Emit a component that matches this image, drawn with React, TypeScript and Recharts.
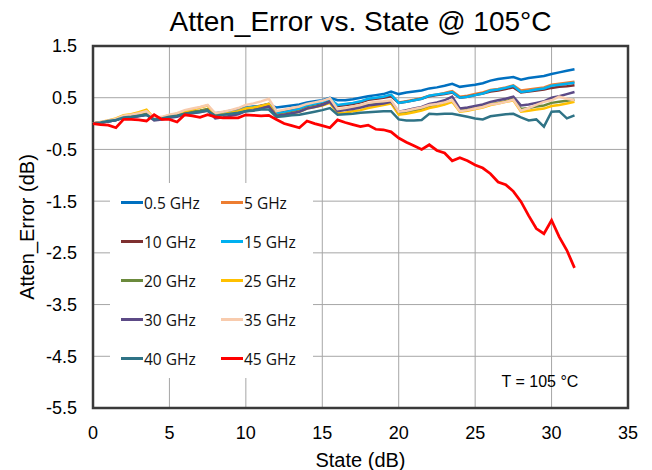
import React from "react";
import {
  LineChart,
  Line,
  XAxis,
  YAxis,
  CartesianGrid,
  Legend,
  ReferenceArea,
  Label,
} from "recharts";

// attenuation state, dB
const states = [
  0, 0.5, 1, 1.5, 2, 2.5, 3, 3.5, 4, 4.5, 5, 5.5, 6, 6.5, 7, 7.5,
  8, 8.5, 9, 9.5, 10, 10.5, 11, 11.5, 12, 12.5, 13, 13.5, 14, 14.5, 15, 15.5,
  16, 16.5, 17, 17.5, 18, 18.5, 19, 19.5, 20, 20.5, 21, 21.5, 22, 22.5, 23, 23.5,
  24, 24.5, 25, 25.5, 26, 26.5, 27, 27.5, 28, 28.5, 29, 29.5, 30, 30.5, 31, 31.5,
];

const err05 = [
  0, 0.02, 0.05, 0.07, 0.12, 0.13, 0.15, 0.17,
  0.08, 0.1, 0.13, 0.15, 0.2, 0.22, 0.24, 0.26,
  0.2, 0.22, 0.25, 0.28, 0.31, 0.33, 0.34, 0.36,
  0.31, 0.33, 0.35, 0.37, 0.41, 0.43, 0.45, 0.5,
  0.45, 0.45, 0.47, 0.5, 0.53, 0.55, 0.57, 0.62,
  0.57, 0.6, 0.62, 0.64, 0.68, 0.7, 0.73, 0.77,
  0.71, 0.73, 0.75, 0.78, 0.83, 0.86, 0.88, 0.9,
  0.85, 0.88, 0.9, 0.92, 0.96, 0.99, 1.02, 1.05,
];
const err5 = [
  0, 0.02, 0.05, 0.08, 0.13, 0.14, 0.16, 0.19,
  0.09, 0.11, 0.14, 0.16, 0.21, 0.23, 0.25, 0.28,
  0.17, 0.2, 0.22, 0.25, 0.3, 0.32, 0.35, 0.38,
  0.2, 0.23, 0.26, 0.29, 0.35, 0.38, 0.41, 0.46,
  0.35, 0.37, 0.39, 0.42, 0.47, 0.49, 0.51, 0.55,
  0.41, 0.43, 0.46, 0.49, 0.54, 0.56, 0.59, 0.63,
  0.52, 0.54, 0.57, 0.6, 0.65, 0.67, 0.7, 0.74,
  0.64, 0.66, 0.68, 0.7, 0.75, 0.77, 0.79, 0.81,
];
const err10 = [
  0, 0.02, 0.04, 0.07, 0.12, 0.13, 0.15, 0.18,
  0.08, 0.1, 0.13, 0.15, 0.2, 0.22, 0.24, 0.27,
  0.16, 0.19, 0.21, 0.24, 0.29, 0.31, 0.34, 0.37,
  0.19, 0.22, 0.25, 0.28, 0.34, 0.37, 0.4, 0.45,
  0.34, 0.36, 0.38, 0.41, 0.46, 0.48, 0.5, 0.53,
  0.4, 0.42, 0.45, 0.48, 0.53, 0.55, 0.57, 0.6,
  0.5, 0.52, 0.55, 0.58, 0.62, 0.64, 0.67, 0.7,
  0.6, 0.62, 0.64, 0.66, 0.69, 0.71, 0.72, 0.74,
];
const err15 = [
  0, 0.02, 0.04, 0.07, 0.12, 0.13, 0.15, 0.18,
  0.08, 0.1, 0.13, 0.15, 0.2, 0.22, 0.24, 0.27,
  0.17, 0.19, 0.22, 0.24, 0.3, 0.32, 0.34, 0.38,
  0.2, 0.22, 0.25, 0.28, 0.35, 0.38, 0.42, 0.48,
  0.36, 0.38, 0.4, 0.43, 0.48, 0.5, 0.52, 0.56,
  0.4, 0.42, 0.45, 0.48, 0.54, 0.56, 0.58, 0.61,
  0.5, 0.52, 0.55, 0.58, 0.64, 0.66, 0.69, 0.73,
  0.61, 0.63, 0.66, 0.68, 0.73, 0.75, 0.77, 0.79,
];
const err20 = [
  0, 0.02, 0.05, 0.08, 0.13, 0.14, 0.16, 0.19,
  0.09, 0.11, 0.14, 0.16, 0.21, 0.23, 0.25, 0.28,
  0.15, 0.17, 0.2, 0.22, 0.28, 0.3, 0.32, 0.36,
  0.16, 0.18, 0.21, 0.24, 0.3, 0.33, 0.36, 0.42,
  0.26, 0.27, 0.3, 0.32, 0.36, 0.38, 0.4, 0.42,
  0.2, 0.22, 0.25, 0.28, 0.34, 0.36, 0.38, 0.44,
  0.25, 0.27, 0.3, 0.33, 0.38, 0.4, 0.43, 0.48,
  0.28, 0.3, 0.33, 0.35, 0.4, 0.42, 0.44, 0.46,
];
const err25 = [
  0, 0.03, 0.06, 0.1, 0.16, 0.18, 0.22, 0.27,
  0.1, 0.12, 0.16, 0.19, 0.24, 0.27, 0.31, 0.35,
  0.16, 0.18, 0.21, 0.24, 0.29, 0.31, 0.34, 0.38,
  0.15, 0.17, 0.2, 0.23, 0.29, 0.32, 0.35, 0.4,
  0.2, 0.21, 0.24, 0.26, 0.3, 0.33, 0.36, 0.39,
  0.17, 0.19, 0.22, 0.25, 0.3, 0.33, 0.37, 0.42,
  0.23, 0.25, 0.28, 0.31, 0.36, 0.39, 0.42, 0.45,
  0.23, 0.25, 0.27, 0.29, 0.34, 0.36, 0.39, 0.42,
];
const err30 = [
  0, 0.02, 0.04, 0.07, 0.11, 0.12, 0.14, 0.17,
  0.06, 0.08, 0.11, 0.13, 0.18, 0.2, 0.22, 0.25,
  0.1, 0.12, 0.15, 0.18, 0.24, 0.26, 0.29, 0.33,
  0.15, 0.17, 0.2, 0.23, 0.29, 0.32, 0.36, 0.42,
  0.24, 0.26, 0.28, 0.31, 0.35, 0.37, 0.39, 0.42,
  0.23, 0.26, 0.29, 0.32, 0.38, 0.41, 0.45, 0.52,
  0.29, 0.31, 0.34, 0.37, 0.42, 0.45, 0.48, 0.52,
  0.35, 0.37, 0.4, 0.43, 0.5, 0.53, 0.57, 0.61,
];
const err35 = [
  0, 0.03, 0.06, 0.09, 0.15, 0.17, 0.2, 0.24,
  0.11, 0.13, 0.17, 0.2, 0.26, 0.29, 0.32, 0.36,
  0.2, 0.23, 0.26, 0.3, 0.36, 0.39, 0.43, 0.48,
  0.24, 0.27, 0.3, 0.33, 0.38, 0.41, 0.44, 0.49,
  0.28, 0.3, 0.33, 0.36, 0.4, 0.42, 0.43, 0.45,
  0.23, 0.25, 0.28, 0.31, 0.36, 0.38, 0.41, 0.45,
  0.24, 0.26, 0.29, 0.32, 0.37, 0.39, 0.42, 0.46,
  0.25, 0.3, 0.36, 0.42, 0.45, 0.52, 0.48, 0.45,
];
const err40 = [
  0, 0.02, 0.05, 0.07, 0.12, 0.13, 0.15, 0.17,
  0.08, 0.1, 0.13, 0.15, 0.19, 0.21, 0.23, 0.25,
  0.15, 0.17, 0.19, 0.21, 0.24, 0.25, 0.27, 0.27,
  0.13, 0.14, 0.16, 0.17, 0.2, 0.23, 0.26, 0.3,
  0.17, 0.18, 0.19, 0.21, 0.22, 0.23, 0.24, 0.24,
  0.08, 0.06, 0.06, 0.07, 0.19, 0.18, 0.19, 0.19,
  0.16, 0.13, 0.1, 0.08, 0.14, 0.16, 0.18, 0.19,
  0.12, 0.06, 0.08, -0.06, 0.23, 0.24, 0.1, 0.16,
];
const err45 = [
  0, -0.02, -0.03, -0.08, 0.08, 0.08, 0.07, 0.05,
  0.17, 0.08, 0.08, 0.03, 0.17, 0.15, 0.12, 0.17,
  0.13, 0.11, 0.11, 0.11, 0.17, 0.16, 0.15, 0.16,
  0.08, 0.0, -0.04, -0.08, 0.05, 0.0, -0.04, -0.08,
  0.07, 0.02, -0.02, -0.06, -0.03, -0.11, -0.12, -0.16,
  -0.28, -0.36, -0.43, -0.5, -0.41, -0.52, -0.57, -0.72,
  -0.66, -0.72, -0.8, -0.86, -0.97, -1.13, -1.18, -1.31,
  -1.51, -1.78, -2.03, -2.13, -1.87, -2.19, -2.45, -2.79,
];

const xTicks = [0, 5, 10, 15, 20, 25, 30, 35];
const yTicks = [-5.5, -4.5, -3.5, -2.5, -1.5, -0.5, 0.5, 1.5];

const seriesList = [
  { key: "f05", name: "0.5 GHz", values: err05, color: "#0070C0" },
  { key: "f5", name: "5 GHz", values: err5, color: "#ED7D31" },
  { key: "f10", name: "10 GHz", values: err10, color: "#7E3030" },
  { key: "f15", name: "15 GHz", values: err15, color: "#00B0F0" },
  { key: "f20", name: "20 GHz", values: err20, color: "#6B8A3C" },
  { key: "f25", name: "25 GHz", values: err25, color: "#FFC000" },
  { key: "f30", name: "30 GHz", values: err30, color: "#5C4A86" },
  { key: "f35", name: "35 GHz", values: err35, color: "#F8CBAD" },
  { key: "f40", name: "40 GHz", values: err40, color: "#2F7386" },
  { key: "f45", name: "45 GHz", values: err45, color: "#FF0000" },
];

const chartData = states.map((s, i) => {
  const row: Record<string, number> = { state: s };
  seriesList.forEach((ser) => {
    row[ser.key] = ser.values[i];
  });
  return row;
});

const axisFont = "'Liberation Sans', Arial, sans-serif";

function LegendBox() {
  return (
    <div
      style={{
        background: "#fff",
        width: 203,
        display: "grid",
        gridTemplateColumns: "100px 100px",
        gridAutoRows: "39px",
        paddingLeft: 11,
        boxSizing: "border-box",
        fontFamily: "'Open Sans', sans-serif",
        fontSize: 15.5,
        color: "#111",
      }}
    >
      {seriesList.map((s) => (
        <div key={s.key} style={{ display: "flex", alignItems: "center" }}>
          <span style={{ width: 22, height: 3, background: s.color, display: "inline-block" }} />
          <span style={{ marginLeft: 1 }}>{s.name}</span>
        </div>
      ))}
    </div>
  );
}

export default function App() {
  return (
    <div style={{ position: "absolute", left: 0, top: 0, width: 652, height: 470, background: "#fff" }}>
      <div
        style={{
          position: "absolute",
          left: 93,
          top: 6,
          width: 535,
          textAlign: "center",
          fontFamily: axisFont,
          fontSize: 28,
          lineHeight: "32px",
          color: "#000",
        }}
      >
        Atten_Error vs. State @ 105°C
      </div>
      <LineChart width={652} height={470} data={chartData} margin={{ top: 46, right: 24, bottom: 0, left: 0 }}>
        <CartesianGrid stroke="#A6A6A6" strokeWidth={1} />
        <XAxis
          dataKey="state"
          type="number"
          domain={[0, 35]}
          ticks={xTicks}
          height={62}
          tickLine={false}
          axisLine={false}
          tickSize={0}
          tickMargin={18}
          tick={{ fill: "#000", fontSize: 18, fontFamily: axisFont }}
        >
          <Label
            value="State (dB)"
            position="insideBottom"
            offset={3}
            style={{ fill: "#000", fontSize: 20, fontFamily: axisFont }}
          />
        </XAxis>
        <YAxis
          type="number"
          domain={[-5.5, 1.5]}
          ticks={yTicks}
          width={93}
          tickLine={false}
          axisLine={false}
          tickSize={0}
          tickMargin={16}
          tick={{ fill: "#000", fontSize: 18, fontFamily: axisFont }}
        >
          <Label
            value="Atten_Error (dB)"
            angle={-90}
            position="insideLeft"
            offset={27}
            style={{ fill: "#000", fontSize: 20, fontFamily: axisFont, textAnchor: "middle" }}
          />
        </YAxis>
        <ReferenceArea
          x1={0}
          x2={35}
          y1={-5.5}
          y2={1.5}
          fill="none"
          stroke="#3A3A3A"
          strokeWidth={2.5}
          ifOverflow="visible"
        />
        <Legend
          layout="horizontal"
          verticalAlign="middle"
          align="center"
          content={() => <LegendBox />}
          wrapperStyle={{ left: 110, top: 183, width: 203, height: 195 }}
        />
        {seriesList.map((s) => (
          <Line
            key={s.key}
            type="linear"
            dataKey={s.key}
            name={s.name}
            stroke={s.color}
            strokeWidth={s.key === "f45" ? 2.75 : 2.5}
            dot={false}
            activeDot={false}
            isAnimationActive={false}
          />
        ))}
      </LineChart>
      <div
        style={{
          position: "absolute",
          left: 490,
          top: 373,
          width: 100,
          textAlign: "center",
          fontFamily: axisFont,
          fontSize: 16,
          color: "#000",
        }}
      >
        T = 105 °C
      </div>
    </div>
  );
}
